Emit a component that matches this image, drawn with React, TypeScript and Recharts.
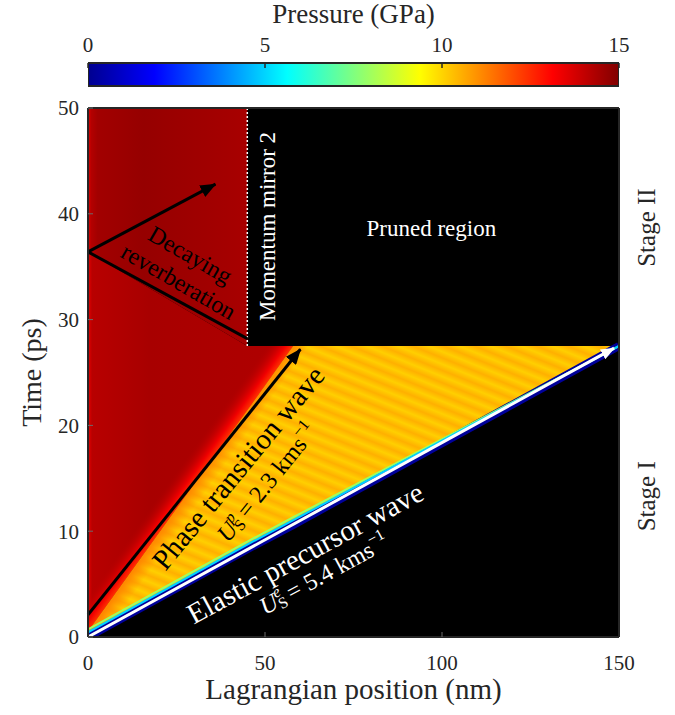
import React from 'react';
import { ComposedChart, BarChart, Bar, Area, Line, XAxis, YAxis, CartesianGrid, ReferenceLine, ReferenceDot } from 'recharts';

const FONT = '"Liberation Serif", "Times New Roman", serif';
const INK = '#262626';
const TICK_GREY = '#6a6a6a';

// boundaries of the pressure field, read at a few positions (nm -> ps)
const X_NM = [0, 45, 58, 150];
const ELASTIC_FRONT = [0, 8.3, 10.6, 27.5];
const EDGE_INNER = [0.45, 8.75, 11.05, 27.5];
const EDGE_OUTER = [0.72, 9.02, 11.32, 27.5];
const PHASE_FRONT = [0.5, 21.4, 27.5, null];
const REVERB_FRONT = [36.4, 27.5, null, null];
const STAGE_SPLIT = 27.5;
const TIME_MAX = 50;

const X_TICKS = [0, 50, 100, 150];
const T_TICKS = [0, 10, 20, 30, 40, 50];
const PRESSURE_TICKS = [0, 5, 10, 15];
const PRESSURE_RANGE = [0, 15];

// arrows and guide lines (nm, ps)
const PHASE_ARROW = [{ x: 0, y: 2.1 }, { x: 60, y: 27.2 }];
const REVERB_ARROW = [{ x: 0, y: 36.4 }, { x: 36, y: 42.8 }];
const REVERB_LINE = [{ x: 0, y: 36.4 }, { x: 45, y: 28.2 }];
const ELASTIC_ARROW = [{ x: 0, y: 0 }, { x: 148.6, y: 27.3 }];
const MIRROR_LINE = [{ x: 45, y: 27.5 }, { x: 45, y: 50 }];

const NOTES = [
  { x: 97, y: 38.6, text: 'Pruned region', angle: 0, kind: 'white' },
  { x: 50.8, y: 38.8, text: 'Momentum mirror 2', angle: -90, kind: 'white' },
  { x: 28.9, y: 36.1, text: 'Decaying', angle: 30, kind: 'dark' },
  { x: 25.6, y: 33.6, text: 'reverberation', angle: 30, kind: 'dark' },
  { x: 42.4, y: 16.0, text: 'Phase transition wave', angle: -50.6, kind: 'darkBig' },
  { x: 61.3, y: 7.95, text: 'Elastic precursor wave', angle: -28.5, kind: 'whiteBig' },
  { x: 157.9, y: 38.7, text: 'Stage II', angle: -90, kind: 'side' },
  { x: 157.9, y: 13.3, text: 'Stage I', angle: -90, kind: 'side' },
];

const SPEEDS = [
  { x: 50.6, y: 14.6, sup: 'p', value: '2.3', angle: -51, kind: 'dark' },
  { x: 66.7, y: 5.95, sup: 'e', value: '5.4', angle: -28.5, kind: 'white' },
];

const NOTE_STYLE: Record<string, { color: string; size: number }> = {
  white: { color: '#ffffff', size: 23 },
  dark: { color: '#000000', size: 24 },
  darkBig: { color: '#000000', size: 29 },
  whiteBig: { color: '#ffffff', size: 29 },
  side: { color: INK, size: 25 },
};

const FIELD = X_NM.map((x, i) => {
  const phase = PHASE_FRONT[i];
  const reverb = REVERB_FRONT[i];
  return {
    x,
    upper: reverb == null ? null : [reverb, TIME_MAX],
    lower: phase == null ? null : [phase, reverb ?? STAGE_SPLIT],
    yellow: [ELASTIC_FRONT[i], phase ?? STAGE_SPLIT],
    front: ELASTIC_FRONT[i],
    inner: EDGE_INNER[i],
    outer: EDGE_OUTER[i],
  };
});

const COLORBAR = [{ name: 'P', range: PRESSURE_RANGE }];

const arrowShape = (color: string, head: string | null, width: number, dash?: string) => (p: any) => (
  <line x1={p.x1} y1={p.y1} x2={p.x2} y2={p.y2} stroke={color} strokeWidth={width}
    strokeDasharray={dash} markerEnd={head ? `url(#${head})` : undefined} />
);

const noteShape = (n: any) => (p: any) => {
  const s = NOTE_STYLE[n.kind];
  return (
    <text x={p.cx} y={p.cy} transform={`rotate(${n.angle} ${p.cx} ${p.cy})`} textAnchor="middle"
      dominantBaseline="central" fill={s.color} fontSize={s.size} fontFamily={FONT}>{n.text}</text>
  );
};

const speedShape = (n: any) => (p: any) => {
  const s = NOTE_STYLE[n.kind];
  return (
    <text x={p.cx} y={p.cy} transform={`rotate(${n.angle} ${p.cx} ${p.cy})`} textAnchor="middle"
      dominantBaseline="central" fill={s.color} fontSize={24} fontFamily={FONT}>
      <tspan fontStyle="italic">U</tspan>
      <tspan fontSize={16} dy={5}>S</tspan>
      <tspan fontSize={16} fontStyle="italic" dx={-9} dy={-13}>{n.sup}</tspan>
      <tspan dy={8}>{` = ${n.value} kms`}</tspan>
      <tspan fontSize={16} dy={-9}>−1</tspan>
    </text>
  );
};

const tickStyle = { fill: INK, fontSize: 21, fontFamily: FONT };

export default function App() {
  return (
    <div style={{ position: 'absolute', left: 0, top: 0, width: 675, height: 715, background: '#fff' }}>
      <svg width={0} height={0} style={{ position: 'absolute' }}>
        <defs>
          <linearGradient id="jet" x1="0" y1="0" x2="1" y2="0">
            <stop offset="0" stopColor="#00008f" />
            <stop offset="0.125" stopColor="#0000ff" />
            <stop offset="0.375" stopColor="#00ffff" />
            <stop offset="0.625" stopColor="#ffff00" />
            <stop offset="0.875" stopColor="#ff0000" />
            <stop offset="1" stopColor="#800000" />
          </linearGradient>
          <linearGradient id="upperRed" x1="0" y1="0" x2="1" y2="0">
            <stop offset="0" stopColor="#e00000" />
            <stop offset="0.02" stopColor="#b40000" />
            <stop offset="0.06" stopColor="#a20000" />
            <stop offset="0.35" stopColor="#960000" />
            <stop offset="0.65" stopColor="#9e0000" />
            <stop offset="1" stopColor="#a80000" />
          </linearGradient>
          <linearGradient id="lowerRed" x1="0" y1="0" x2="1" y2="0">
            <stop offset="0" stopColor="#e80000" />
            <stop offset="0.02" stopColor="#b80000" />
            <stop offset="0.3" stopColor="#a80000" />
            <stop offset="1" stopColor="#b00000" />
          </linearGradient>
          <linearGradient id="redFront" x1="0.5" y1="0.624" x2="0.4526" y2="0.561">
            <stop offset="0" stopColor="#ff3000" stopOpacity={1} />
            <stop offset="0.3" stopColor="#f00000" stopOpacity={1} />
            <stop offset="1" stopColor="#b00000" stopOpacity={0} />
          </linearGradient>
          <linearGradient id="stripes" gradientUnits="userSpaceOnUse" x1="0" y1="0" x2="-4.3" y2="10.7" spreadMethod="repeat">
            <stop offset="0" stopColor="#ffcf00" />
            <stop offset="0.5" stopColor="#ffb000" />
            <stop offset="1" stopColor="#ffcf00" />
          </linearGradient>
          <linearGradient id="yellowFront" x1="0.193" y1="0.491" x2="0.2215" y2="0.502">
            <stop offset="0" stopColor="#ff8800" stopOpacity={1} />
            <stop offset="1" stopColor="#ff8800" stopOpacity={0} />
          </linearGradient>
          <marker id="headBlack" viewBox="0 0 16 13" refX="15" refY="6.5" markerWidth="16" markerHeight="13"
            markerUnits="userSpaceOnUse" orient="auto">
            <path d="M0,0 L16,6.5 L0,13 z" fill="#000" />
          </marker>
          <marker id="headWhite" viewBox="0 0 14 11" refX="13" refY="5.5" markerWidth="14" markerHeight="11"
            markerUnits="userSpaceOnUse" orient="auto">
            <path d="M0,0 L14,5.5 L0,11 z" fill="#fff" />
          </marker>
        </defs>
      </svg>

      {/* colour bar */}
      <div style={{ position: 'absolute', left: 0, top: 0 }}>
        <BarChart width={675} height={110} layout="vertical" data={COLORBAR} barCategoryGap={0}
          margin={{ top: 23, right: 56, bottom: 24, left: 88 }}>
          <XAxis type="number" orientation="top" domain={PRESSURE_RANGE} ticks={PRESSURE_TICKS} interval={0}
            allowDataOverflow height={40} axisLine={false} tickSize={-5} tickMargin={16}
            tickLine={{ stroke: INK, strokeWidth: 1.5 }} tick={tickStyle}
            label={{
              content: (p: any) => (
                <text x={p.viewBox.x + p.viewBox.width / 2} y={p.viewBox.y} textAnchor="middle"
                  fill={INK} fontSize={27} fontFamily={FONT}>Pressure (GPa)</text>
              ),
            }} />
          <YAxis type="category" dataKey="name" hide />
          <Bar dataKey="range" fill="url(#jet)" stroke={INK} strokeWidth={2} isAnimationActive={false} />
        </BarChart>
      </div>

      {/* x-t pressure map */}
      <div style={{ position: 'absolute', left: 0, top: 0 }}>
        <ComposedChart width={675} height={715} data={FIELD} margin={{ top: 107, right: 55, bottom: 18, left: 28 }}>
          <CartesianGrid horizontal={false} vertical={false} fill="#000" fillOpacity={1} />
          <XAxis dataKey="x" type="number" domain={[0, 150]} ticks={X_TICKS} interval={0} allowDataOverflow
            height={60} axisLine={{ stroke: INK, strokeWidth: 2 }} tickSize={-5} tickMargin={23}
            tickLine={{ stroke: TICK_GREY }} tick={tickStyle}
            label={{
              content: (p: any) => (
                <text x={p.viewBox.x + p.viewBox.width / 2} y={p.viewBox.y + 62} textAnchor="middle"
                  fill={INK} fontSize={29} fontFamily={FONT}>Lagrangian position (nm)</text>
              ),
            }} />
          <XAxis xAxisId="top" orientation="top" type="number" domain={[0, 150]} ticks={X_TICKS} interval={0}
            allowDataOverflow height={1} axisLine={{ stroke: INK, strokeWidth: 2 }} tickSize={-5}
            tickLine={{ stroke: TICK_GREY }} tick={false} />
          <YAxis type="number" domain={[0, TIME_MAX]} ticks={T_TICKS} interval={0} allowDataOverflow width={60}
            axisLine={{ stroke: INK, strokeWidth: 2 }} tickSize={-5} tickMargin={14}
            tickLine={{ stroke: TICK_GREY }} tick={tickStyle}
            label={{
              content: (p: any) => {
                const cx = p.viewBox.x + 3;
                const cy = p.viewBox.y + p.viewBox.height / 2;
                return (
                  <text x={cx} y={cy} transform={`rotate(-90 ${cx} ${cy})`} textAnchor="middle"
                    dominantBaseline="central" fill={INK} fontSize={28} fontFamily={FONT}>Time (ps)</text>
                );
              },
            }} />
          <YAxis yAxisId="right" orientation="right" type="number" domain={[0, TIME_MAX]} ticks={T_TICKS}
            interval={0} allowDataOverflow width={1} axisLine={{ stroke: INK, strokeWidth: 2 }} tickSize={-5}
            tickLine={{ stroke: TICK_GREY }} tick={false} />

          <Area type="linear" dataKey="upper" fill="url(#upperRed)" fillOpacity={1} stroke="none" isAnimationActive={false} />
          <Area type="linear" dataKey="lower" fill="url(#lowerRed)" fillOpacity={1} stroke="none" isAnimationActive={false} />
          <Area type="linear" dataKey="lower" fill="url(#redFront)" fillOpacity={1} stroke="none" isAnimationActive={false} />
          <Area type="linear" dataKey="yellow" fill="url(#stripes)" fillOpacity={1} stroke="none" isAnimationActive={false} />
          <Area type="linear" dataKey="yellow" fill="url(#yellowFront)" fillOpacity={1} stroke="none" isAnimationActive={false} />

          <Line type="linear" dataKey="front" stroke="#00009a" strokeWidth={8} dot={false} activeDot={false} isAnimationActive={false} />
          <Line type="linear" dataKey="outer" stroke="#9cff60" strokeWidth={2} dot={false} activeDot={false} isAnimationActive={false} />
          <Line type="linear" dataKey="inner" stroke="#00d0ff" strokeWidth={2.2} dot={false} activeDot={false} isAnimationActive={false} />

          <ReferenceLine segment={MIRROR_LINE} shape={arrowShape('#ffffff', null, 1.5, '2 2')} />
          <ReferenceLine segment={REVERB_LINE} shape={arrowShape('#000', null, 3)} />
          <ReferenceLine segment={REVERB_ARROW} shape={arrowShape('#000', 'headBlack', 3)} />
          <ReferenceLine segment={PHASE_ARROW} shape={arrowShape('#000', 'headBlack', 3)} />
          <ReferenceLine segment={ELASTIC_ARROW} shape={arrowShape('#fff', 'headWhite', 3)} />

          {NOTES.map((n) => (
            <ReferenceDot key={n.text} x={n.x} y={n.y} r={0} ifOverflow="visible" shape={noteShape(n)} />
          ))}
          {SPEEDS.map((n) => (
            <ReferenceDot key={n.sup} x={n.x} y={n.y} r={0} ifOverflow="visible" shape={speedShape(n)} />
          ))}
        </ComposedChart>
      </div>
    </div>
  );
}
